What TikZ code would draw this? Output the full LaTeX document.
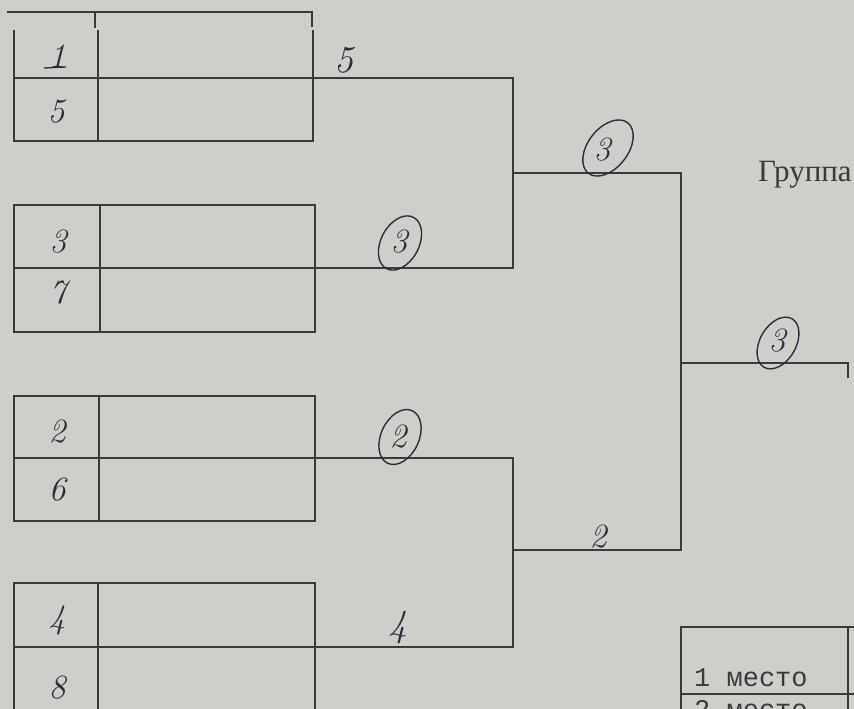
\documentclass[tikz,border=0pt]{standalone}
\usepackage{fontspec}
\newfontfamily\typefont{Liberation Mono}
\newfontfamily\serifru{Liberation Serif}
\usetikzlibrary{shapes.geometric}
\definecolor{paper}{RGB}{206,206,202}
\definecolor{ink}{RGB}{58,58,58}
\definecolor{pen}{RGB}{45,45,55}
\begin{document}
\begin{tikzpicture}[x=1pt,y=-1pt,
  line/.style={draw=ink,line width=1.8pt},
  hand/.style={font=\fontsize{34}{36}\selectfont\itshape,text=pen,inner sep=0pt},
  bighand/.style={hand,font=\fontsize{38}{40}\selectfont\itshape},
  oval/.style={ellipse,draw=pen,line width=1.4pt,minimum width=38pt,minimum height=58pt,inner sep=0pt},
  typed/.style={font=\fontsize{27}{29}\selectfont\typefont,text=ink,inner sep=0pt,anchor=base west},
  ttl/.style={font=\fontsize{31}{33}\selectfont\serifru,text=ink,inner sep=0pt,anchor=base west}]
\fill[paper] (0,0) rectangle (854,709);
\useasboundingbox (0,0) rectangle (854,709);
\clip (0,0) rectangle (854,709);

% ---- box 1 (top) ----
\coordinate (t1a) at (7,12);  \coordinate (t1b) at (312,12); \coordinate (t1c) at (312,27);
\coordinate (t1d) at (95,12); \coordinate (t1e) at (95,28);
\draw[line] (t1a) -- (t1b) -- (t1c);
\draw[line] (t1d) -- (t1e);
\coordinate (b1tl) at (14,30); \coordinate (b1bl) at (14,141);
\coordinate (b1br) at (313,141); \coordinate (b1tr) at (313,30);
\draw[line] (b1tl) -- (b1bl) -- (b1br) -- (b1tr);
\coordinate (b1dt) at (98,30); \coordinate (b1db) at (98,141);
\draw[line] (b1dt) -- (b1db);
\coordinate (b1ml) at (14,78); \coordinate (b1mr) at (313,78);
\draw[line] (b1ml) -- (b1mr);
\node[hand] (n1) at (57,56) {1};
\coordinate (u1a) at (44,68); \coordinate (u1b) at (66,67);
\draw[pen,line width=1.3pt] (u1a) -- (u1b);
\node[hand] (n5) at (56,112) {5};

% ---- box 2 ----
\coordinate (b2tl) at (14,205); \coordinate (b2br) at (315,332);
\draw[line] (b2tl) rectangle (b2br);
\coordinate (b2dt) at (100,205); \coordinate (b2db) at (100,332);
\draw[line] (b2dt) -- (b2db);
\coordinate (b2ml) at (14,268); \coordinate (b2mr) at (315,268);
\draw[line] (b2ml) -- (b2mr);
\node[hand] (n3) at (58,242) {3};
\node[hand] (n7) at (58,293) {7};

% ---- box 3 ----
\coordinate (b3tl) at (14,396); \coordinate (b3br) at (315,521);
\draw[line] (b3tl) rectangle (b3br);
\coordinate (b3dt) at (99,396); \coordinate (b3db) at (99,521);
\draw[line] (b3dt) -- (b3db);
\coordinate (b3ml) at (14,458); \coordinate (b3mr) at (315,458);
\draw[line] (b3ml) -- (b3mr);
\node[hand] (n2) at (57,432) {2};
\node[hand] (n6) at (57,490) {6};

% ---- box 4 ----
\coordinate (b4bl) at (14,712); \coordinate (b4tl) at (14,583);
\coordinate (b4tr) at (315,583); \coordinate (b4br) at (315,712);
\draw[line] (b4bl) -- (b4tl) -- (b4tr) -- (b4br);
\coordinate (b4dt) at (98,583); \coordinate (b4db) at (98,712);
\draw[line] (b4dt) -- (b4db);
\coordinate (b4ml) at (14,647); \coordinate (b4mr) at (315,647);
\draw[line] (b4ml) -- (b4mr);
\node[hand] (n4) at (57,620) {4};
\node[hand] (n8) at (57,688) {8};

% ---- round 1 connectors ----
\coordinate (r1a) at (513,78); \coordinate (r1b) at (513,268); \coordinate (r1m) at (513,173);
\draw[line] (b1mr) -- (r1a) -- (r1b) -- (b2mr);
\coordinate (r2a) at (513,458); \coordinate (r2b) at (513,647); \coordinate (r2m) at (513,550);
\draw[line] (b3mr) -- (r2a) -- (r2b) -- (b4mr);

% ---- round 2 ----
\coordinate (s1) at (681,173); \coordinate (s2) at (681,550); \coordinate (sm) at (681,363);
\draw[line] (r1m) -- (s1) -- (s2) -- (r2m);
\coordinate (f1) at (848,363); \coordinate (f2) at (848,378);
\draw[line] (sm) -- (f1) -- (f2);

% ---- handwritten results ----
\node[bighand] (w1) at (344,60) {5};
\node[hand] (w2) at (399,242) {3};
\node[oval,rotate=-28] (o2) at (400,243) {};
\node[hand] (w3) at (398,437) {2};
\node[oval,rotate=-25] (o3) at (400,437) {};
\node[bighand] (w4) at (398,628) {4};
\node[hand] (w5) at (602,150) {3};
\node[oval,rotate=-38,minimum width=40pt,minimum height=64pt] (o5) at (608,148) {};
\node[hand] (w6) at (598,537) {2};
\node[hand] (w7) at (777,341) {3};
\node[oval,rotate=-30,minimum width=36pt,minimum height=56pt] (o7) at (778,343) {};

% ---- printed text ----
\node[ttl] (grp) at (758,181) {Группа};

% ---- places table ----
\coordinate (pt1) at (681,709); \coordinate (pt2) at (681,627);
\coordinate (pt3) at (854,627); \coordinate (pt4) at (848,627); \coordinate (pt5) at (848,709);
\draw[line,line width=1.5pt] (pt1) -- (pt2) -- (pt3);
\draw[line,line width=1.5pt] (pt4) -- (pt5);
\coordinate (pr1) at (681,694); \coordinate (pr2) at (854,694);
\draw[line,line width=1.5pt] (pr1) -- (pr2);
\node[typed] (p1) at (694,686) {1 место};
\node[typed] (p2) at (694,718) {2 место};
\end{tikzpicture}
\end{document}
